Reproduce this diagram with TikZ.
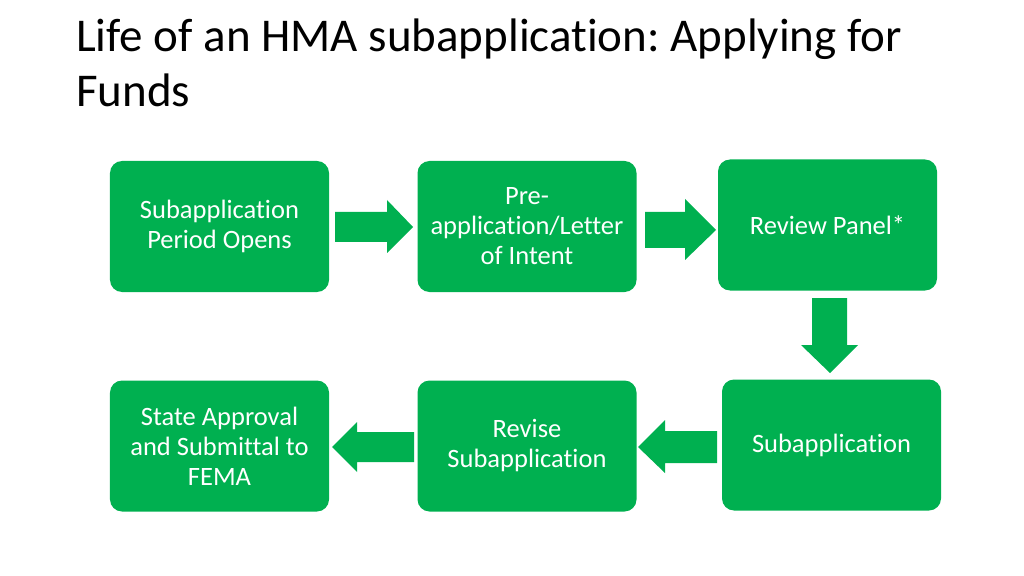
\documentclass[tikz,border=0pt]{standalone}
\usepackage{fontspec}
\setmainfont[Ligatures=NoCommon]{Carlito}
\frenchspacing
\definecolor{boxgreen}{HTML}{00B050}
\begin{document}
\begin{tikzpicture}[x=1bp,y=-1bp,
  box/.style={fill=boxgreen,draw=none,rounded corners=12bp,minimum width=219bp,minimum height=131bp,
    text=white,align=center,inner sep=0pt,font=\fontsize{26.5bp}{30bp}\selectfont},
  blockarrow/.style={fill=boxgreen,draw=none},
  title/.style={anchor=base west,inner sep=0pt,align=left,font=\fontsize{47bp}{55bp}\selectfont}]
\useasboundingbox (0,0) rectangle (1024,576);
\node[title] (t1) at (76,52) {Life of an HMA subapplication: Applying for};
\node[title] (t2) at (76,107) {Funds};
\node[box] (b1) at (219.5,226.5) {Subapplication\\Period Opens};
\node[box] (b2) at (527,226.5) {Pre-\\application/Letter\\of Intent};
\node[box] (b3) at (827.5,225) {Review Panel*};
\node[box] (b4) at (831.5,445) {Subapplication};
\node[box] (b5) at (527,446) {Revise\\Subapplication};
\node[box] (b6) at (219.5,446) {State Approval\\and Submittal to\\FEMA};
% b1 -> b2
\fill[blockarrow] (335,212) -- (387,212) -- (387,200) -- (413,227) -- (387,253) -- (387,242) -- (335,242) -- cycle;
% b2 -> b3
\fill[blockarrow] (645,212) -- (685,212) -- (685,199) -- (716,230) -- (685,260) -- (685,248) -- (645,248) -- cycle;
% b3 -> b4
\fill[blockarrow] (812,298) -- (847,298) -- (847,345) -- (858,345) -- (830,373) -- (801,345) -- (812,345) -- cycle;
% b4 -> b5
\fill[blockarrow] (717,431) -- (665,431) -- (665,420) -- (638,447) -- (665,473) -- (665,463) -- (717,463) -- cycle;
% b5 -> b6
\fill[blockarrow] (414,432) -- (357,432) -- (357,422) -- (332,447) -- (357,472) -- (357,462) -- (414,462) -- cycle;
\end{tikzpicture}
\end{document}
